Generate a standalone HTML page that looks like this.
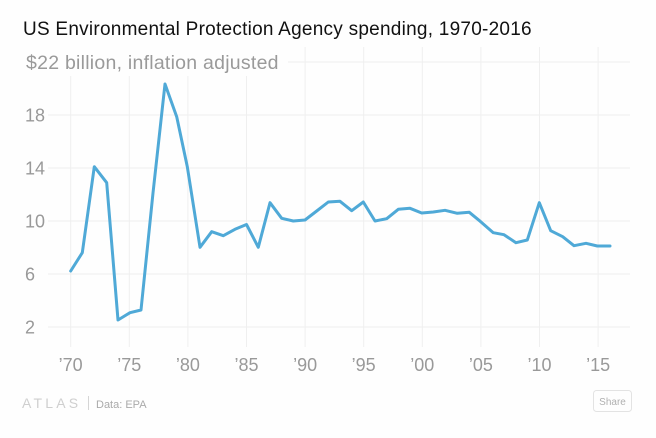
<!DOCTYPE html>
<html><head><meta charset="utf-8">
<style>
html,body{margin:0;padding:0;background:#fefefe;}
body{width:656px;height:433px;overflow:hidden;font-family:"Liberation Sans",Arial,sans-serif;}
svg text{font-family:"Liberation Sans",Arial,sans-serif;}
</style></head>
<body>
<svg width="656" height="433" viewBox="0 0 656 433" xmlns="http://www.w3.org/2000/svg">
<rect x="0" y="0" width="656" height="433" fill="#fefefe"/>
<!-- vertical grid -->
<g stroke="#efefef" stroke-width="1">
<line x1="70.7" y1="47" x2="70.7" y2="347"/>
<line x1="129.3" y1="47" x2="129.3" y2="347"/>
<line x1="187.9" y1="47" x2="187.9" y2="347"/>
<line x1="246.5" y1="47" x2="246.5" y2="347"/>
<line x1="305.1" y1="47" x2="305.1" y2="347"/>
<line x1="363.7" y1="47" x2="363.7" y2="347"/>
<line x1="422.3" y1="47" x2="422.3" y2="347"/>
<line x1="480.9" y1="47" x2="480.9" y2="347"/>
<line x1="539.5" y1="47" x2="539.5" y2="347"/>
<line x1="598.1" y1="47" x2="598.1" y2="347"/>
</g>
<!-- horizontal grid -->
<g stroke="#efefef" stroke-width="1">
<line x1="48" y1="62" x2="630" y2="62"/>
<line x1="48" y1="115" x2="630" y2="115"/>
<line x1="48" y1="168" x2="630" y2="168"/>
<line x1="48" y1="221" x2="630" y2="221"/>
<line x1="48" y1="274" x2="630" y2="274"/>
<line x1="48" y1="327" x2="630" y2="327"/>
</g>
<!-- title -->
<text x="23" y="35" font-size="19" letter-spacing="0.25" fill="#111">US Environmental Protection Agency spending, 1970-2016</text>
<rect x="18" y="46" width="270" height="30" fill="#fefefe"/>
<text x="26" y="69" font-size="19.5" letter-spacing="0.25" fill="#9a9a9a">$22 billion, inflation adjusted</text>
<!-- y labels -->
<g font-size="18" fill="#999">
<text x="25" y="121.5">18</text>
<text x="25" y="174.5">14</text>
<text x="25" y="227.5">10</text>
<text x="25" y="280.5">6</text>
<text x="25" y="333.5">2</text>
</g>
<!-- x labels -->
<g font-size="18" fill="#999" text-anchor="middle">
<text x="70.7" y="371">’70</text>
<text x="129.3" y="371">’75</text>
<text x="187.9" y="371">’80</text>
<text x="246.5" y="371">’85</text>
<text x="305.1" y="371">’90</text>
<text x="363.7" y="371">’95</text>
<text x="422.3" y="371">’00</text>
<text x="480.9" y="371">’05</text>
<text x="539.5" y="371">’10</text>
<text x="598.1" y="371">’15</text>
</g>
<!-- series -->
<polyline fill="none" stroke="#4fa9d7" stroke-width="3" stroke-linejoin="round" stroke-linecap="round"
points="70.7,271 82.3,252.7 94.3,166.7 106.7,182.7 118,320 130,312.7 141,310 153,193 165,84 176.7,116.7 187.3,166.7 200,247.3 211.7,231.7 223.3,235.7 235,229.3 246.5,224.5 258.3,247.3 270,202.7 281.7,218.3 293.3,221 305,220 316.7,211 328.3,202 340,201.3 351.7,210.7 363.3,202 375,221 386.7,218.7 398.3,209.3 410,208.3 421.7,213 433.3,212 445,210.3 457.3,213.3 469.3,212.3 480.7,221.7 493.3,232.7 504,234.7 516,242.7 527.3,240 539.3,202.7 550.7,230.7 562.7,236.7 574,245.7 586,243.3 597.3,246 610,246"/>
<!-- footer -->
<text x="22" y="408" font-size="14" letter-spacing="3.2" fill="#cfcfcf">ATLAS</text>
<line x1="88.5" y1="396" x2="88.5" y2="410" stroke="#d5d5d5" stroke-width="1"/>
<text x="96" y="408" font-size="11" fill="#aaa">Data:  EPA</text>
<rect x="593.5" y="390.5" width="38" height="21" rx="3" fill="#fefefe" stroke="#e3e3e3" stroke-width="1"/>
<text x="612.5" y="405" font-size="10" fill="#b0b0b0" text-anchor="middle">Share</text>
</svg>
</body></html>
